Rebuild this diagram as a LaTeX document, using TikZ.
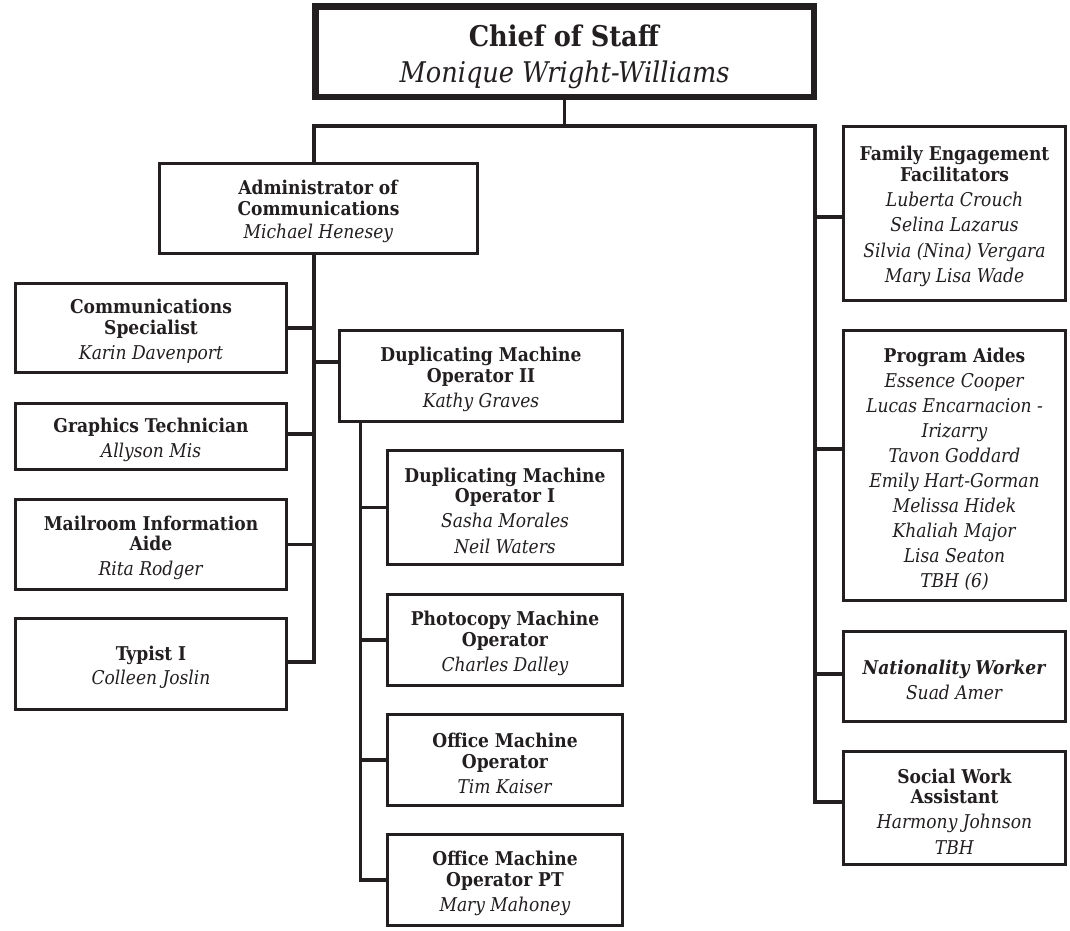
\documentclass[tikz,border=0pt]{standalone}
\usepackage{fontspec}
\setmainfont{DejaVu Serif Condensed}
\definecolor{ink}{HTML}{231F20}
\newcommand\ptitle[1]{\textbf{#1}}
\newcommand\ftitle[1]{\rule{0pt}{21pt}\textbf{#1}}
\newcommand\pname[1]{\textit{#1}}
\begin{document}
\begin{tikzpicture}[x=1pt,y=-1pt,
  box/.style={draw=ink,line width=2.8pt,align=center,inner sep=0pt,text=ink,
              font=\fontsize{19}{20.5}\selectfont},
  topbox/.style={draw=ink,line width=6.5pt,align=center,inner sep=0pt,text=ink,
              font=\fontsize{28.5}{36}\selectfont},
  conn/.style={draw=ink,line width=3.2pt}]
\useasboundingbox (0,0) rectangle (1070,930);
\fill[white] (0,0) rectangle (1070,930);

% top
\node[topbox,minimum width=498.5pt,minimum height=90.5pt] (chief) at (564.5,51.5)
  {\rule{0pt}{32pt}\ptitle{Chief of Staff}\\\pname{Monique Wright-Williams}};

% communications branch
\node[box,minimum width=318pt,minimum height=90pt] (admin) at (318.5,208.5)
  {\ftitle{Administrator of}\\\ptitle{Communications}\\[3pt]\pname{Michael Henesey}};
\node[box,minimum width=271pt,minimum height=89pt] (comm) at (151,328)
  {\ftitle{Communications}\\\ptitle{Specialist}\\[4.5pt]\pname{Karin Davenport}};
\node[box,minimum width=271pt,minimum height=66pt] (graph) at (151,436.5)
  {\ftitle{Graphics Technician}\\[4.5pt]\pname{Allyson Mis}};
\node[box,minimum width=271pt,minimum height=90pt] (mail) at (151,544.5)
  {\ftitle{Mailroom Information}\\\ptitle{Aide}\\[4.5pt]\pname{Rita Rodger}};
\node[box,minimum width=271pt,minimum height=91pt] (typist) at (151,664)
  {\ftitle{Typist I}\\[3pt]\pname{Colleen Joslin}};

% duplicating branch
\node[box,minimum width=283pt,minimum height=91pt] (dmo2) at (481,376)
  {\ftitle{Duplicating Machine}\\\ptitle{Operator II}\\[4.5pt]\pname{Kathy Graves}};
\node[box,minimum width=235pt,minimum height=114pt] (dmo1) at (505,507.5)
  {\ftitle{Duplicating Machine}\\\ptitle{Operator I}\\[4.5pt]\pname{Sasha Morales}\\[5pt]\pname{Neil Waters}};
\node[box,minimum width=235pt,minimum height=91pt] (photo) at (505,640)
  {\ftitle{Photocopy Machine}\\\ptitle{Operator}\\[4.5pt]\pname{Charles Dalley}};
\node[box,minimum width=235pt,minimum height=91pt] (omo) at (505,760)
  {\ftitle{Office Machine}\\\ptitle{Operator}\\[4.5pt]\pname{Tim Kaiser}};
\node[box,minimum width=235pt,minimum height=91pt] (omopt) at (505,880)
  {\ftitle{Office Machine}\\\ptitle{Operator PT}\\[4.5pt]\pname{Mary Mahoney}};

% right branch
\node[box,minimum width=222pt,minimum height=174pt] (family) at (954.5,213.5)
  {\ftitle{Family Engagement}\\\ptitle{Facilitators}\\[4.5pt]\pname{Luberta Crouch}\\[5pt]\pname{Selina Lazarus}\\[5pt]\pname{Silvia (Nina) Vergara}\\[5pt]\pname{Mary Lisa Wade}};
\node[box,minimum width=222pt,minimum height=270pt] (prog) at (954.5,465.5)
  {\ftitle{Program Aides}\\[4.5pt]\pname{Essence Cooper}\\[4.5pt]\pname{Lucas Encarnacion -}\\[4.5pt]\pname{Irizarry}\\[4.5pt]\pname{Tavon Goddard}\\[4.5pt]\pname{Emily Hart-Gorman}\\[4.5pt]\pname{Melissa Hidek}\\[4.5pt]\pname{Khaliah Major}\\[4.5pt]\pname{Lisa Seaton}\\[4.5pt]\pname{TBH (6)}};
\node[box,minimum width=222pt,minimum height=90pt] (nat) at (954.5,676.5)
  {\rule{0pt}{21pt}\textbf{\textit{Nationality Worker}}\\[4.5pt]\pname{Suad Amer}};
\node[box,minimum width=222pt,minimum height=113pt] (social) at (954.5,808)
  {\ftitle{Social Work}\\\ptitle{Assistant}\\[4.5pt]\pname{Harmony Johnson}\\[5pt]\pname{TBH}};

% attachment points
\coordinate (rtop) at (815,126);
\coordinate (atop) at ([xshift=-4.5pt]admin.north);
\coordinate (abot) at ([xshift=-4.5pt]admin.south);
\coordinate (gin) at ([yshift=2.5pt]graph.east);
\coordinate (tin) at ([yshift=2pt]typist.east);
\coordinate (d2in) at ([yshift=14pt]dmo2.west);
\coordinate (d2bot) at ([xshift=22.75pt]dmo2.south west);
\coordinate (famin) at ([yshift=-3.5pt]family.west);
\coordinate (progin) at ([yshift=16.5pt]prog.west);
\coordinate (natin) at ([yshift=2.5pt]nat.west);
\coordinate (socin) at ([yshift=6pt]social.west);

% connectors
\draw[conn] (chief.south) -- (chief.south |- rtop);
\draw[conn] (atop) |- (rtop) |- (socin);
\draw[conn] (abot) |- (tin);
\draw[conn] (comm.east) -- (comm.east -| abot);
\draw[conn] (gin) -- (gin -| abot);
\draw[conn] (mail.east) -- (mail.east -| abot);
\draw[conn] (d2in) -- (d2in -| abot);
\draw[conn] (d2bot) |- (omopt.west);
\draw[conn] (dmo1.west) -- (dmo1.west -| d2bot);
\draw[conn] (photo.west) -- (photo.west -| d2bot);
\draw[conn] (omo.west) -- (omo.west -| d2bot);
\draw[conn] (famin) -- (famin -| rtop);
\draw[conn] (progin) -- (progin -| rtop);
\draw[conn] (natin) -- (natin -| rtop);
\end{tikzpicture}
\end{document}
